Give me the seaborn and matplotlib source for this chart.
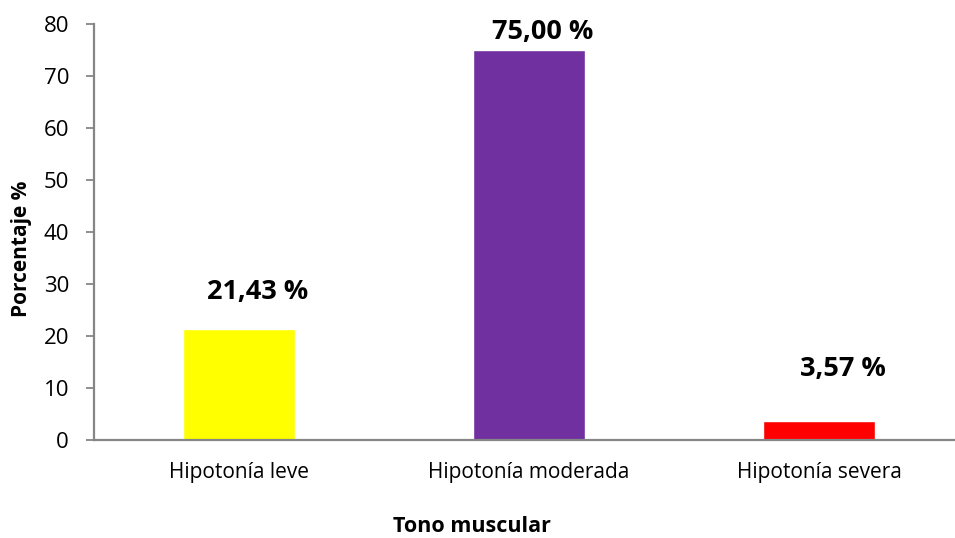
import matplotlib
matplotlib.use("Agg")
import matplotlib.pyplot as plt
import seaborn as sns
import pandas as pd

categories = ["Hipotonía leve", "Hipotonía moderada", "Hipotonía severa"]
percentages = [21.43, 75.00, 3.57]
bar_colors = ["#FFFF00", "#7030A0", "#FF0000"]
y_ticks = [0, 10, 20, 30, 40, 50, 60, 70, 80]

# label offsets from each bar's top centre, in pixels
label_offsets = [(19, 37), (14, 18), (24, 52)]

sns.set_theme(style="white")
plt.rcParams["font.family"] = ["Open Sans", "DejaVu Sans"]
plt.rcParams["text.color"] = "black"
plt.rcParams["axes.labelcolor"] = "black"

df = pd.DataFrame({"Tono muscular": categories, "Porcentaje %": percentages})

W, H = 955, 538
fig = plt.figure(figsize=(W / 100, H / 100), dpi=100)
left, top, right, bottom = 94, 24, 964, 440
ax = fig.add_axes([left / W, 1 - bottom / H, (right - left) / W, (bottom - top) / H])

sns.barplot(data=df, x="Tono muscular", y="Porcentaje %", hue="Tono muscular",
            palette=bar_colors, width=0.386, saturation=1, legend=False, ax=ax)

ax.set_xlim(-0.5, 2.5)
ax.set_ylim(0, 80)
ax.set_yticks(y_ticks)
ax.set_yticklabels([str(t) for t in y_ticks], fontsize=16)
ax.tick_params(axis="x", length=0, labelsize=15, pad=16, labelcolor="black")
ax.tick_params(axis="y", length=6, width=1.3, color="#868686", pad=12,
               direction="out", left=True, labelcolor="black")

for side in ["top", "right"]:
    ax.spines[side].set_visible(False)
for side in ["left", "bottom"]:
    ax.spines[side].set_color("#868686")
    ax.spines[side].set_linewidth(1.6)

ax.set_xlabel("Tono muscular", fontsize=15.5, fontweight="bold")
ax.set_ylabel("Porcentaje %", fontsize=15, fontweight="bold")
ax.xaxis.label.set_va("center")
ax.yaxis.label.set_va("center")
ax.xaxis.set_label_coords((472 - left) / (right - left), -(527 - bottom) / (bottom - top))
ax.yaxis.set_label_coords((22 - left) / (right - left), (bottom - 249) / (bottom - top))

for i, (v, (dx, dy)) in enumerate(zip(percentages, label_offsets)):
    ax.annotate(f"{v:.2f} %".replace(".", ","), xy=(i, v), xytext=(dx, dy),
                textcoords="offset pixels", ha="center", va="center",
                fontsize=19.5, fontweight="bold", color="black")

fig.savefig("out.png", dpi=100)
